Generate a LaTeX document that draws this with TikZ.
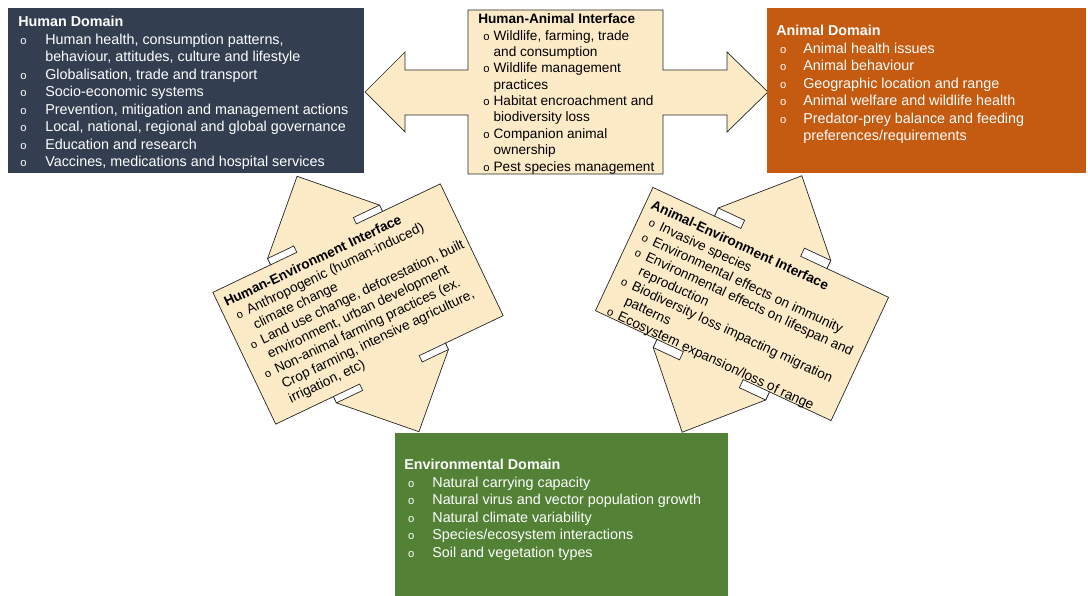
\documentclass[tikz,border=0pt]{standalone}
\usepackage{fontspec}
\setmainfont{Liberation Sans}
\usepackage{xcolor}
\usepackage{tikz}

\definecolor{humanblue}{HTML}{333F50}
\definecolor{animalorange}{HTML}{C55A11}
\definecolor{envgreen}{HTML}{538135}
\definecolor{ifacecream}{HTML}{FDEBC8}

% small bullet "o" (offset, width) and the indent of a wrapped line
\newcommand{\bitem}[2][2pt]{\makebox[#2][l]{\hspace{#1}{\fontsize{8}{8}\selectfont o}}}
\newcommand{\bcont}[1]{\hspace*{#1}}

% up-down arrow callout, local frame: half width, half height, neck
\newcommand{\udcallout}[3]{%
  \draw[iface] (-#1,-#2) -- (-#1,#2) -- (-62,#2) -- (-62,#2+#3) -- (0,141.5)
    -- (62,#2+#3) -- (62,#2) -- (#1,#2) -- (#1,-#2) -- (62,-#2) -- (62,-#2-#3)
    -- (0,-141.5) -- (-62,-#2-#3) -- (-62,-#2) -- cycle;
  \draw[notch] (-62,#2) rectangle (-33,#2+#3);
  \draw[notch] (33,#2) rectangle (62,#2+#3);
  \draw[notch] (-62,-#2) rectangle (-33,-#2-#3);
  \draw[notch] (33,-#2) rectangle (62,-#2-#3);
}

\begin{document}
\begin{tikzpicture}[x=0.025cm, y=0.025cm,
            iface/.style={draw=black!85, line width=0.5pt, fill=ifacecream},
            notch/.style={draw=black!85, line width=0.5pt, fill=white},
            dtext/.style={anchor=north west, inner sep=0pt, align=left, text=white,
                          font=\fontsize{10.2}{12.45}\selectfont},
            itext/.style={anchor=north west, inner sep=0pt, align=left,
                          font=\fontsize{9.7}{11.65}\selectfont}
        ]

    \useasboundingbox (0,0) rectangle (1088,-596);

    % human-animal interface: box with left and right arrows
    \draw[iface] (468,-10) -- (468,-70) -- (405,-70) -- (405,-52) -- (365,-92)
        -- (405,-132) -- (405,-115) -- (468,-115) -- (468,-174) -- (663,-174)
        -- (663,-115) -- (727,-115) -- (727,-132) -- (768,-92) -- (727,-52)
        -- (727,-70) -- (663,-70) -- (663,-10) -- cycle;

    \node[itext] (haiface) at (478,-13.5) {\textbf{Human-Animal Interface}\\
        \bitem[3.6pt]{10.9pt}Wildlife, farming, trade\\
        \bcont{10.9pt}and consumption\\
        \bitem[3.6pt]{10.9pt}Wildlife management\\
        \bcont{10.9pt}practices\\
        \bitem[3.6pt]{10.9pt}Habitat encroachment and\\
        \bcont{10.9pt}biodiversity loss\\
        \bitem[3.6pt]{10.9pt}Companion animal\\
        \bcont{10.9pt}ownership\\
        \bitem[3.6pt]{10.9pt}Pest species management};

    % human-environment interface
    \begin{scope}[shift={(358,-304)}, rotate=25.5]
        \udcallout{126}{73}{7}
        \node[itext, transform shape] (heiface) at (-120,64) {\textbf{Human-Environment Interface}\\
            \bitem[3.6pt]{12pt}Anthropogenic (human-induced)\\
            \bcont{12pt}climate change\\
            \bitem[3.6pt]{12pt}Land use change, deforestation, built\\
            \bcont{12pt}environment, urban development\\
            \bitem[3.6pt]{12pt}Non-animal farming practices (ex.\\
            \bcont{12pt}Crop farming, intensive agriculture,\\
            \bcont{12pt}irrigation, etc)};
    \end{scope}

    % animal-environment interface
    \begin{scope}[shift={(742,-304)}, rotate=-25]
        \udcallout{130}{68}{9}
        \node[itext, transform shape] (aeiface) at (-124,58) {\textbf{Animal-Environment Interface}\\
            \bitem[3.6pt]{12pt}Invasive species\\
            \bitem[3.6pt]{12pt}Environmental effects on immunity\\
            \bitem[3.6pt]{12pt}Environmental effects on lifespan and\\
            \bcont{12pt}reproduction\\
            \bitem[3.6pt]{12pt}Biodiversity loss impacting migration\\
            \bcont{12pt}patterns\\
            \bitem[3.6pt]{12pt}Ecosystem expansion/loss of range};
    \end{scope}

    % the three domains
    \fill[humanblue] (8,-8) rectangle (364,-173);
    \fill[animalorange] (767,-8) rectangle (1086,-173);
    \fill[envgreen] (395,-433) rectangle (728,-596);

    \node[dtext] (human) at (18,-16) {\textbf{Human Domain}\\
        \bitem[1.4pt]{19.2pt}Human health, consumption patterns,\\
        \bcont{19.2pt}behaviour, attitudes, culture and lifestyle\\
        \bitem[1.4pt]{19.2pt}Globalisation, trade and transport\\
        \bitem[1.4pt]{19.2pt}Socio-economic systems\\
        \bitem[1.4pt]{19.2pt}Prevention, mitigation and management actions\\
        \bitem[1.4pt]{19.2pt}Local, national, regional and global governance\\
        \bitem[1.4pt]{19.2pt}Education and research\\
        \bitem[1.4pt]{19.2pt}Vaccines, medications and hospital services};

    \node[dtext] (animal) at (776,-25) {\textbf{Animal Domain}\\
        \bitem[2.8pt]{19.2pt}Animal health issues\\
        \bitem[2.8pt]{19.2pt}Animal behaviour\\
        \bitem[2.8pt]{19.2pt}Geographic location and range\\
        \bitem[2.8pt]{19.2pt}Animal welfare and wildlife health\\
        \bitem[2.8pt]{19.2pt}Predator-prey balance and feeding\\
        \bcont{19.2pt}preferences/requirements};

    \node[dtext] (environment) at (404,-459) {\textbf{Environmental Domain}\\
        \bitem[2.8pt]{20pt}Natural carrying capacity\\
        \bitem[2.8pt]{20pt}Natural virus and vector population growth\\
        \bitem[2.8pt]{20pt}Natural climate variability\\
        \bitem[2.8pt]{20pt}Species/ecosystem interactions\\
        \bitem[2.8pt]{20pt}Soil and vegetation types};

\end{tikzpicture}
\end{document}
